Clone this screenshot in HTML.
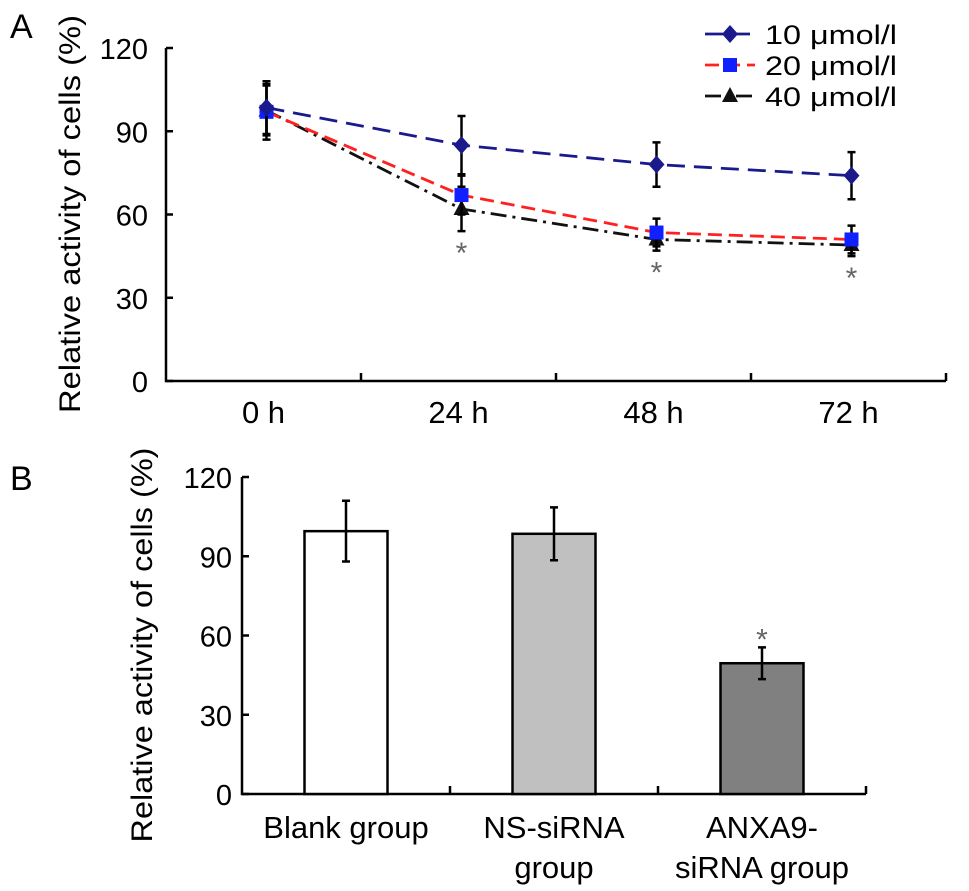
<!DOCTYPE html>
<html><head><meta charset="utf-8"><style>
body{margin:0;background:#fff}
svg{display:block;font-family:"Liberation Sans",Arial,sans-serif}
</style></head><body>
<svg id="fig" width="969" height="891" viewBox="0 0 969 891">
<text x="10" y="38" font-size="34">A</text>
<text x="10" y="490" font-size="34">B</text>
<g id="ga"></g>
<g id="gb"></g>
</svg>
<script>
const timeCats = ["0 h","24 h","48 h","72 h"];
const yTicks = [0,30,60,90,120];
const s10 = [98.5,85,78,74];
const e10 = [9.5,10.5,8,8.5];
const s20 = [97,67,53.5,51];
const e20 = [10,7,5,5];
const s40 = [97.5,62,51,49];
const e40 = [9,8,4,4];
const sigA = [false,true,true,true];
const barCats = [["Blank group"],["NS-siRNA","group"],["ANXA9-","siRNA group"]];
const barVals = [99.5,98.5,49.5];
const barErr = [11.5,10,6];
const barSig = [false,false,true];

const NS="http://www.w3.org/2000/svg";
function mk(p,tag,at,txt){const e=document.createElementNS(NS,tag);for(const k in at)e.setAttribute(k,at[k]);if(txt!==undefined)e.textContent=txt;p.appendChild(e);return e;}

// Panel A
const ga=document.getElementById('ga');
const ax0=166, ax1=946, ay0=381, ayTop=48;
const yA=v=>ay0-(v/120)*(ay0-ayTop);
const bw=(ax1-ax0)/timeCats.length;
const xA=i=>ax0+bw*(i+0.5)+3;
let el=mk(ga,'path',{d:`M${ax0},${ayTop}V${ay0}H${ax1}`,stroke:'#000','stroke-width':2.5,fill:'none'});


yTicks.forEach(t=>{mk(ga,'line',{x1:ax0,x2:ax0+7,y1:yA(t),y2:yA(t),stroke:'#000','stroke-width':2.5});
 el=mk(ga,'text',{x:ax0-18,y:yA(t)+11,'font-size':29,'text-anchor':'end'},t);
 
 });
for(let i=1;i<=timeCats.length;i++){const x=ax0+bw*i;mk(ga,'line',{x1:x,x2:x,y1:ay0,y2:ay0-8,stroke:'#000','stroke-width':2.5});}
timeCats.forEach((c,i)=>{el=mk(ga,'text',{x:xA(i)-3,y:423,'font-size':31,'text-anchor':'middle'},c);
 
 });
el=mk(ga,'text',{transform:`translate(80,214) rotate(-90)`,'font-size':30,'text-anchor':'middle',textLength:398,lengthAdjust:'spacingAndGlyphs'},'Relative activity of cells (%)');


const series=[{v:s10,e:e10,c:'#1a1a8c',dash:'18,9',m:'diamond',name:'series-10'},{v:s20,e:e20,c:'#ff2020',dash:'14,7',m:'square',name:'series-20'},{v:s40,e:e40,c:'#111',dash:'16,6,3,6',m:'triangle',name:'series-40'}];
function marker(g,m,x,y,c){
 if(m==='diamond')return mk(g,'path',{d:`M${x},${y-9}L${x+8},${y}L${x},${y+9}L${x-8},${y}Z`,fill:c});
 if(m==='square')return mk(g,'rect',{x:x-7,y:y-7,width:14,height:14,fill:'#1020ff'});
 return mk(g,'path',{d:`M${x},${y-9}L${x+8},${y+6}L${x-8},${y+6}Z`,fill:c});
}
[...series].reverse().forEach(s=>{
 const g=mk(ga,'g',{});
 
 
 mk(g,'polyline',{points:s.v.map((v,i)=>`${xA(i)},${yA(v)}`).join(' '),fill:'none',stroke:s.c,'stroke-width':2.8,'stroke-dasharray':s.dash});
 s.v.forEach((v,i)=>{const x=xA(i);
  mk(g,'path',{d:`M${x},${yA(v+s.e[i])}V${yA(v-s.e[i])}M${x-4},${yA(v+s.e[i])}h8M${x-4},${yA(v-s.e[i])}h8`,stroke:'#000','stroke-width':2.5,fill:'none'});
  el=marker(g,s.m,x,yA(v),s.c);
  
  });
});
sigA.forEach((s,i)=>{if(!s)return;const lo=Math.min(s10[i]-e10[i],s20[i]-e20[i],s40[i]-e40[i]);
 el=mk(ga,'text',{x:xA(i),y:yA(lo)+32,'font-size':30,'text-anchor':'middle',fill:'#666'},'*');
 
 });
const labs=['10 μmol/l','20 μmol/l','40 μmol/l'];
series.forEach((s,i)=>{const y=34+i*31;const g=mk(ga,'g',{});
 
 
 mk(g,'line',{x1:705,x2:755,y1:y,y2:y,stroke:s.c,'stroke-width':2.8,'stroke-dasharray':s.dash});
 marker(g,s.m,730,y,s.c);
 mk(g,'text',{x:765,y:y+10,'font-size':27,textLength:132,lengthAdjust:'spacingAndGlyphs'},labs[i]);});

// Panel B
const gb=document.getElementById('gb');
const bx0=242,bx1=866,by0=794,byTop=477;
const yB=v=>by0-(v/120)*(by0-byTop);
const bbw=(bx1-bx0)/barCats.length;
const xB=i=>bx0+bbw*(i+0.5);
el=mk(gb,'path',{d:`M${bx0},${byTop}V${by0}H${bx1}`,stroke:'#000','stroke-width':2.5,fill:'none'});


yTicks.forEach(t=>{mk(gb,'line',{x1:bx0,x2:bx0+7,y1:yB(t),y2:yB(t),stroke:'#000','stroke-width':2.5});
 el=mk(gb,'text',{x:bx0-10,y:yB(t)+11,'font-size':29,'text-anchor':'end'},t);
 
 });
for(let i=1;i<=barCats.length;i++){const x=bx0+bbw*i;mk(gb,'line',{x1:x,x2:x,y1:by0,y2:by0-8,stroke:'#000','stroke-width':2.5});}
el=mk(gb,'text',{transform:`translate(152,645) rotate(-90)`,'font-size':30,'text-anchor':'middle',textLength:395,lengthAdjust:'spacingAndGlyphs'},'Relative activity of cells (%)');


const fills=['#fff','#c0c0c0','#808080'];
barVals.forEach((v,i)=>{const x=xB(i),w=83;
 el=mk(gb,'rect',{x:x-w/2,y:yB(v),width:w,height:by0-yB(v),fill:fills[i],stroke:'#000','stroke-width':2.5});
 
 
 mk(gb,'path',{d:`M${x},${yB(v+barErr[i])}V${yB(v-barErr[i])}M${x-4},${yB(v+barErr[i])}h8M${x-4},${yB(v-barErr[i])}h8`,stroke:'#000','stroke-width':2.5,fill:'none'});
 if(barSig[i]){el=mk(gb,'text',{x:x,y:yB(v+barErr[i])+2,'font-size':30,'text-anchor':'middle',fill:'#666'},'*');
  
  }
 barCats[i].forEach((ln,j)=>{el=mk(gb,'text',{x:x,y:838+j*40,'font-size':31,'text-anchor':'middle'},ln);
  
  });
});
</script>
</body></html>
